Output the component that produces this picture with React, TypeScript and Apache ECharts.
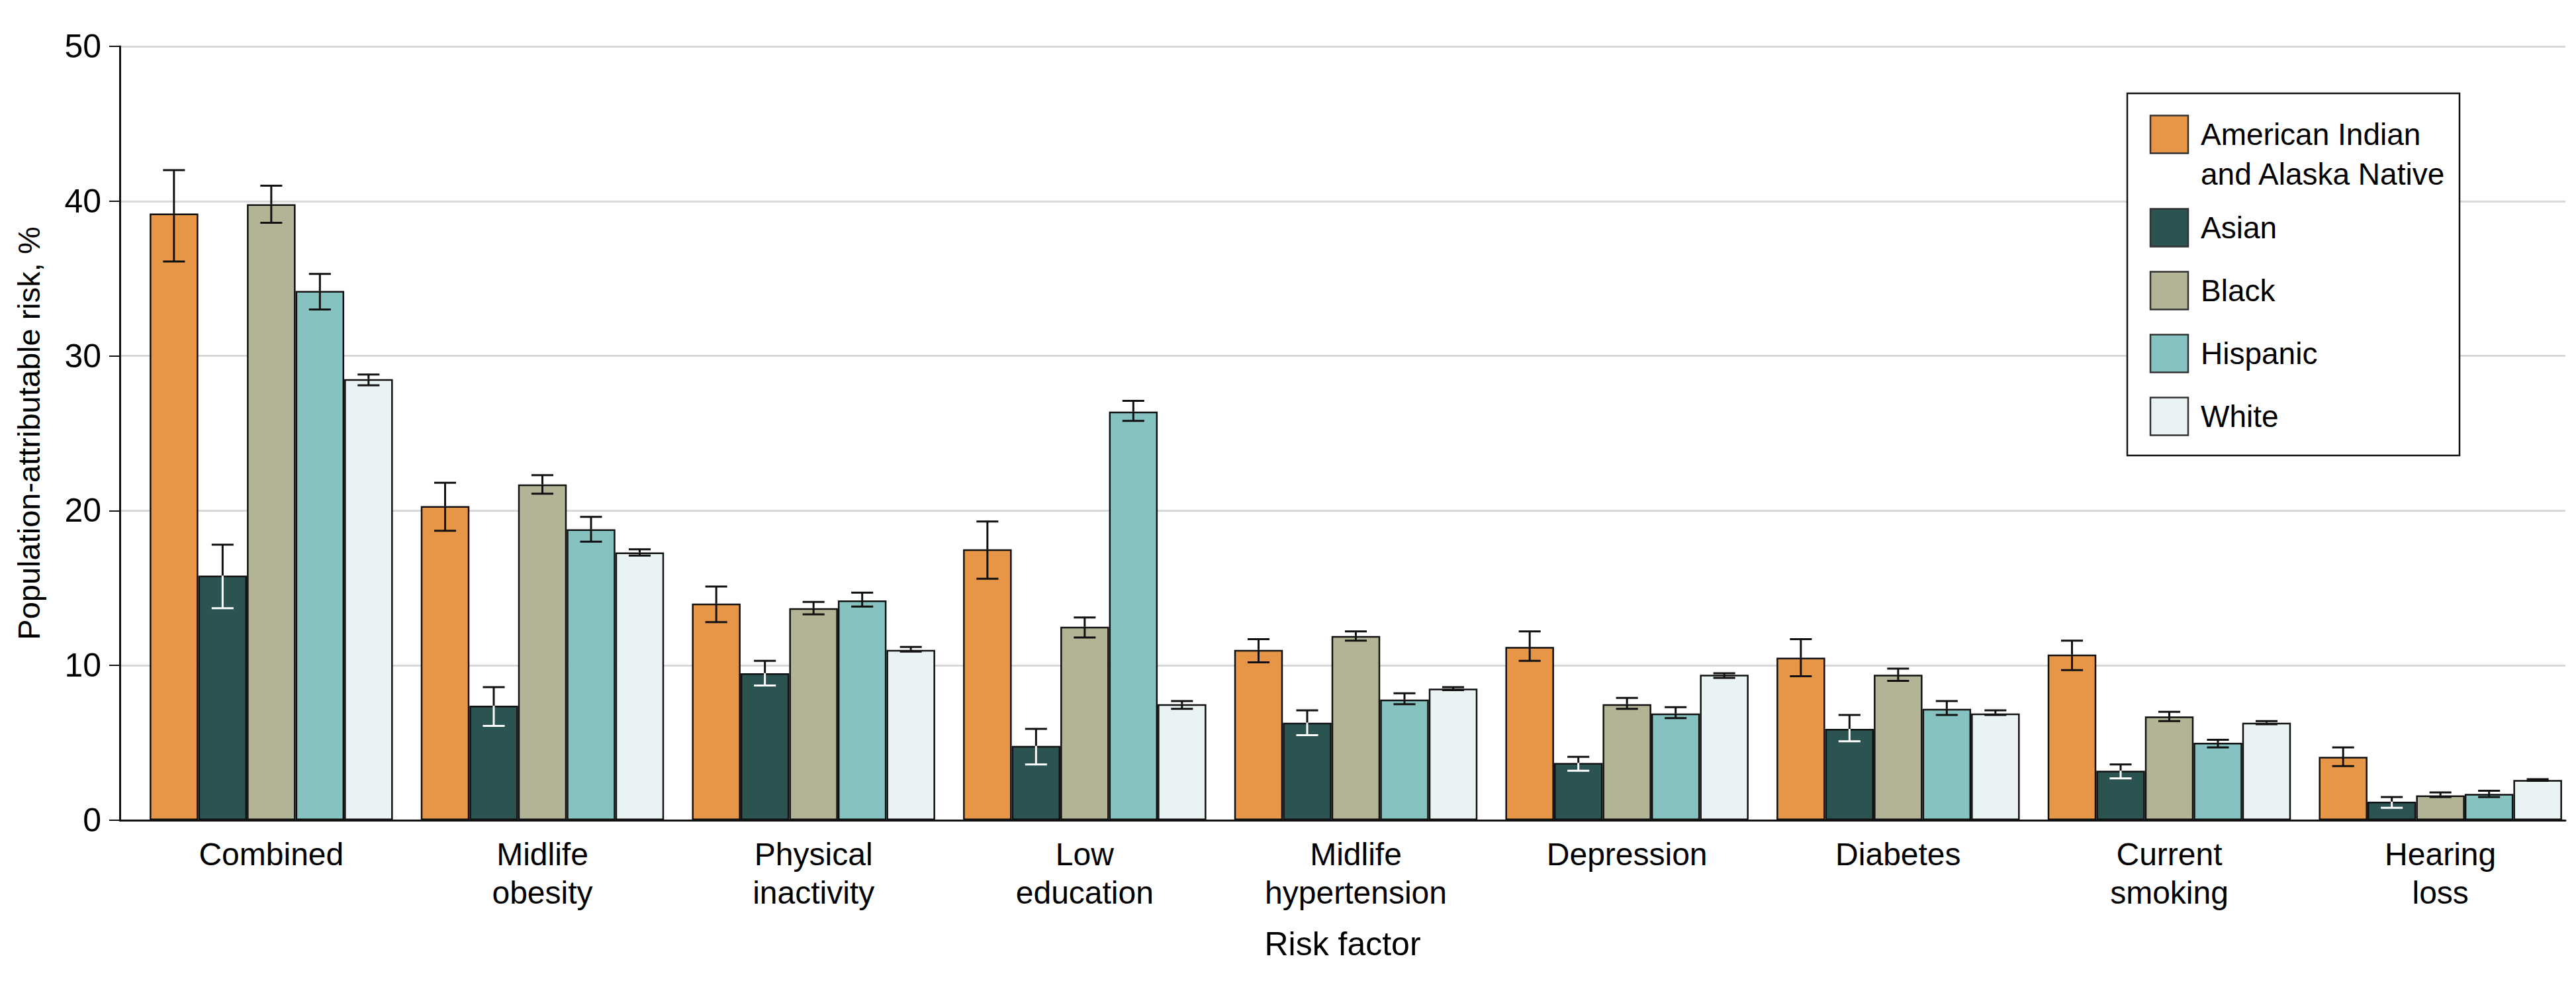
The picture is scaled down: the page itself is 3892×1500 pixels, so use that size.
import React, { useEffect, useRef } from "react";
import * as echarts from "echarts";

const categories = [
  "Combined",
  "Midlife\nobesity",
  "Physical\ninactivity",
  "Low\neducation",
  "Midlife\nhypertension",
  "Depression",
  "Diabetes",
  "Current\nsmoking",
  "Hearing\nloss",
];
const seriesNames = ["American Indian\nand Alaska Native", "Asian", "Black", "Hispanic", "White"];
const seriesColors = ["#E69646", "#2A5352", "#B3B396", "#86C2C0", "#EAF3F3"];

const aianValues = [39.2, 20.3, 14.0, 17.5, 11.0, 11.2, 10.5, 10.7, 4.1];
const aianLow = [36.1, 18.7, 12.8, 15.6, 10.2, 10.3, 9.3, 9.7, 3.5];
const aianHigh = [42.0, 21.8, 15.1, 19.3, 11.7, 12.2, 11.7, 11.6, 4.7];

const asianValues = [15.8, 7.4, 9.5, 4.8, 6.3, 3.7, 5.9, 3.2, 1.2];
const asianLow = [13.7, 6.1, 8.7, 3.6, 5.5, 3.2, 5.1, 2.7, 0.8];
const asianHigh = [17.8, 8.6, 10.3, 5.9, 7.1, 4.1, 6.8, 3.6, 1.5];

const blackValues = [39.8, 21.7, 13.7, 12.5, 11.9, 7.5, 9.4, 6.7, 1.6];
const blackLow = [38.6, 21.1, 13.3, 11.8, 11.6, 7.2, 9.0, 6.4, 1.5];
const blackHigh = [41.0, 22.3, 14.1, 13.1, 12.2, 7.9, 9.8, 7.0, 1.8];

const hispanicValues = [34.2, 18.8, 14.2, 26.4, 7.8, 6.9, 7.2, 5.0, 1.7];
const hispanicLow = [33.0, 18.0, 13.8, 25.8, 7.5, 6.6, 6.8, 4.7, 1.5];
const hispanicHigh = [35.3, 19.6, 14.7, 27.1, 8.2, 7.3, 7.7, 5.2, 1.9];

const whiteValues = [28.5, 17.3, 11.0, 7.5, 8.5, 9.4, 6.9, 6.3, 2.6];
const whiteLow = [28.1, 17.1, 10.9, 7.2, 8.4, 9.2, 6.8, 6.2, 2.55];
const whiteHigh = [28.8, 17.5, 11.2, 7.7, 8.6, 9.5, 7.1, 6.4, 2.65];

const yTicks = [0, 10, 20, 30, 40, 50];

const allValues = [aianValues, asianValues, blackValues, hispanicValues, whiteValues];
const allLow = [aianLow, asianLow, blackLow, hispanicLow, whiteLow];
const allHigh = [aianHigh, asianHigh, blackHigh, hispanicHigh, whiteHigh];

const FONT = "'Liberation Sans Narrow', 'Liberation Sans', Arial, sans-serif";
const GAP = 0.103;

function errorSeries(idx: number) {
  const values = allValues[idx];
  const data = values.map((v, i) => [i, allLow[idx][i], allHigh[idx][i], v]);
  const n = allValues.length;
  return {
    type: "custom",
    name: seriesNames[idx] + " CI",
    xAxisIndex: 0,
    yAxisIndex: 0,
    z: 10,
    silent: true,
    encode: { x: 0, y: [1, 2] },
    data,
    renderItem: (params: any, api: any) => {
      const ci = api.value(0);
      const lo = api.coord([ci, api.value(1)]);
      const hi = api.coord([ci, api.value(2)]);
      const mid = api.coord([ci, api.value(3)]);
      const catW = api.size([1, 0])[0];
      const barW = (catW * (1 - GAP)) / n;
      const cx = lo[0] + (idx - (n - 1) / 2) * barW;
      const capW = barW * 0.45;
      const inner = idx === 1 ? "#ffffff" : "#111111";
      const lw = 3;
      return {
        type: "group",
        children: [
          { type: "line", shape: { x1: cx, y1: hi[1], x2: cx, y2: mid[1] }, style: { stroke: "#111", lineWidth: lw } },
          { type: "line", shape: { x1: cx - capW / 2, y1: hi[1], x2: cx + capW / 2, y2: hi[1] }, style: { stroke: "#111", lineWidth: lw } },
          { type: "line", shape: { x1: cx, y1: mid[1], x2: cx, y2: lo[1] }, style: { stroke: inner, lineWidth: lw } },
          { type: "line", shape: { x1: cx - capW / 2, y1: lo[1], x2: cx + capW / 2, y2: lo[1] }, style: { stroke: inner, lineWidth: lw } },
        ],
      };
    },
  };
}

function legendGraphic() {
  const left = 3214;
  const top = 141;
  const children: any[] = [
    {
      type: "rect",
      z: 100,
      shape: { x: left, y: top, width: 502, height: 547 },
      style: { fill: "#ffffff", stroke: "#111", lineWidth: 2.5 },
    },
  ];
  let cy = 203;
  seriesNames.forEach((name, i) => {
    const lines = name.split("\n").length;
    children.push({
      type: "rect",
      z: 101,
      shape: { x: 3249, y: cy - 28.5, width: 57, height: 57 },
      style: { fill: seriesColors[i], stroke: "#333", lineWidth: 2.5 },
    });
    children.push({
      type: "text",
      z: 101,
      x: 3325,
      y: cy - 30,
      style: {
        text: name,
        fontSize: 46,
        fontFamily: FONT,
        fill: "#000",
        lineHeight: 60,
        verticalAlign: "top",
        align: "left",
      },
    });
    cy += lines > 1 ? 141 : 95;
  });
  return [{ type: "group", z: 100, children }];
}

export default function App() {
  const ref = useRef<HTMLDivElement>(null);
  useEffect(() => {
    document.body.style.margin = "0";
    const chart = echarts.init(ref.current!, null, { renderer: "svg" });
    const bars = allValues.map((vals, i) => ({
      type: "bar",
      name: seriesNames[i],
      xAxisIndex: 0,
      yAxisIndex: 0,
      data: vals,
      barGap: "0%",
      barCategoryGap: (GAP * 100).toFixed(1) + "%",
      itemStyle: { color: seriesColors[i], borderColor: "#111", borderWidth: 2.5 },
      z: 2,
    }));
    const option: any = {
      animation: false,
      backgroundColor: "#ffffff",
      textStyle: { fontFamily: FONT, color: "#000" },
      grid: [
        { left: 205, top: 70, width: 3692, height: 1169 },
        { left: 181, top: 70, width: 3695, height: 1169 },
      ],
      xAxis: [
        {
          gridIndex: 0,
          type: "category",
          data: categories,
          axisLine: { show: false },
          axisTick: { show: false },
          axisLabel: { interval: 0, margin: 22, fontSize: 48, lineHeight: 58, color: "#000", fontFamily: FONT },
          splitLine: { show: false },
        },
        {
          gridIndex: 1,
          type: "value",
          min: 0,
          max: 1,
          axisLine: { show: true, onZero: false, lineStyle: { color: "#111", width: 3 } },
          axisTick: { show: false },
          axisLabel: { show: false },
          splitLine: { show: false },
          name: "Risk factor",
          nameLocation: "middle",
          nameGap: 162,
          nameTextStyle: { fontSize: 50, color: "#000", fontFamily: FONT },
        },
      ],
      yAxis: [
        {
          gridIndex: 0,
          type: "value",
          min: yTicks[0],
          max: yTicks[yTicks.length - 1],
          interval: yTicks[1] - yTicks[0],
          show: false,
          splitLine: { show: false },
        },
        {
          gridIndex: 1,
          type: "value",
          min: yTicks[0],
          max: yTicks[yTicks.length - 1],
          interval: yTicks[1] - yTicks[0],
          axisLine: { show: true, lineStyle: { color: "#111", width: 3 } },
          axisTick: { show: true, length: 16, lineStyle: { color: "#111", width: 2 } },
          axisLabel: { margin: 28, fontSize: 50, color: "#000", fontFamily: FONT },
          splitLine: { show: true, lineStyle: { color: "#D9D9D9", width: 3 } },
          name: "Population-attributable risk, %",
          nameLocation: "middle",
          nameGap: 114,
          nameTextStyle: { fontSize: 47, color: "#000", fontFamily: FONT },
        },
      ],
      series: [...bars, ...allValues.map((_, i) => errorSeries(i))],
      graphic: legendGraphic(),
    };
    chart.setOption(option);
    return () => chart.dispose();
  }, []);
  return (
    <div
      ref={ref}
      style={{ position: "fixed", left: 0, top: 0, width: 3892, height: 1500, background: "#fff" }}
    />
  );
}
